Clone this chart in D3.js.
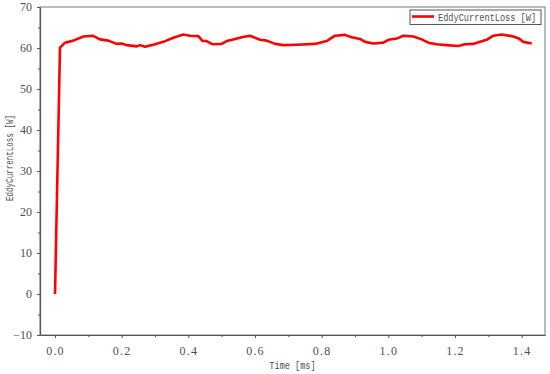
<!DOCTYPE html>
<html>
<head>
<meta charset="utf-8">
<script src="https://cdn.jsdelivr.net/npm/d3@7.9.0/dist/d3.min.js"></script>
<style>
  body { margin: 0; background: #fff; }
  .serif { font-family: "Liberation Serif", "DejaVu Serif", serif; }
  .mono { font-family: "Liberation Mono", "DejaVu Sans Mono", monospace; }
</style>
</head>
<body>
<svg width="550" height="374"></svg>
<script>
// data
const timeMs = [0.0, 0.015, 0.03, 0.055, 0.085, 0.113, 0.135, 0.16, 0.185, 0.2, 0.215, 0.245, 0.255, 0.27,
  0.295, 0.325, 0.355, 0.385, 0.405, 0.43, 0.443, 0.455, 0.473, 0.5, 0.515, 0.535, 0.56, 0.585, 0.615,
  0.635, 0.66, 0.685, 0.725, 0.78, 0.815, 0.84, 0.87, 0.89, 0.915, 0.93, 0.955, 0.985, 1.0, 1.025,
  1.045, 1.075, 1.1, 1.12, 1.145, 1.175, 1.21, 1.23, 1.255, 1.275, 1.295, 1.315, 1.34, 1.37, 1.39,
  1.405, 1.43];
const lossW = [0, 60.1, 61.3, 61.8, 62.8, 63.0, 62.1, 61.8, 61.0, 61.1, 60.7, 60.4, 60.7, 60.3,
  60.8, 61.5, 62.5, 63.3, 63.0, 62.9, 61.7, 61.7, 60.9, 61.0, 61.7, 62.1, 62.6, 63.0, 62.0,
  61.8, 61.0, 60.7, 60.8, 61.0, 61.7, 63.0, 63.2, 62.6, 62.2, 61.5, 61.1, 61.3, 62.0, 62.3,
  63.0, 62.8, 62.1, 61.3, 60.9, 60.7, 60.5, 60.9, 61.0, 61.5, 62.0, 63.0, 63.3, 62.9, 62.4,
  61.5, 61.1];
const xTicks = [0, 0.2, 0.4, 0.6, 0.8, 1.0, 1.2, 1.4];
const yTicks = [-10, 0, 10, 20, 30, 40, 50, 60, 70];
const seriesName = "EddyCurrentLoss [W]";

const svg = d3.select("svg");
const L = 40, R = 545, T = 7, B = 335;

const x = d3.scaleLinear().domain([-0.045, 1.47]).range([L, R]);
const y = d3.scaleLinear().domain([-10, 70]).range([B, T]);

const axisColor = "#555";
const textColor = "#505050";

// frame
svg.append("rect")
  .attr("x", L).attr("y", T).attr("width", R - L).attr("height", B - T)
  .attr("fill", "none").attr("stroke", "#777").attr("stroke-width", 1);

// x axis
const xAxis = svg.append("g").attr("transform", `translate(0,${B})`)
  .call(d3.axisBottom(x).tickValues(xTicks).tickSize(3).tickSizeOuter(0)
    .tickFormat(d3.format(".1f")));
svg.append("g").attr("transform", `translate(0,${B})`)
  .call(d3.axisBottom(x).tickValues(d3.range(0.1, 1.5, 0.2)).tickSize(2).tickFormat(""))
  .call(g => g.select(".domain").remove());

// y axis
const yAxis = svg.append("g").attr("transform", `translate(${L},0)`)
  .call(d3.axisLeft(y).tickValues(yTicks).tickSize(3).tickSizeOuter(0)
    .tickFormat(d => d < 0 ? "\u2212" + Math.abs(d) : d));
svg.append("g").attr("transform", `translate(${L},0)`)
  .call(d3.axisLeft(y).tickValues(d3.range(-5, 70, 10)).tickSize(2).tickFormat(""))
  .call(g => g.select(".domain").remove());

svg.selectAll(".domain").attr("stroke", axisColor).attr("stroke-width", 1.2);
svg.selectAll(".tick line").attr("stroke", axisColor);
xAxis.attr("font-family", null);
yAxis.attr("font-family", null);
svg.selectAll(".tick text").attr("class", "serif").attr("font-size", 12).attr("fill", textColor);
xAxis.selectAll(".tick text").attr("dy", "1.2em").attr("letter-spacing", "1.2px");
yAxis.selectAll(".tick text").attr("dx", "-2px");

// axis titles (squeezed horizontally like the narrow mono font of the original)
svg.append("text").attr("class", "mono")
  .attr("transform", `translate(${(L + R) / 2},369) scale(0.78,1)`)
  .attr("text-anchor", "middle").attr("font-size", 11)
  .attr("fill", textColor)
  .text("Time [ms]");
svg.append("text").attr("class", "mono")
  .attr("transform", `translate(13,158) rotate(-90) scale(0.72,1)`)
  .attr("text-anchor", "middle").attr("font-size", 10.5)
  .attr("fill", textColor)
  .text(seriesName);

// line
const line = d3.line().x((d, i) => x(timeMs[i])).y(d => y(d));
svg.append("path").datum(lossW)
  .attr("d", line).attr("fill", "none")
  .attr("stroke", "#ff0000").attr("stroke-width", 2.6).attr("stroke-linejoin", "round");

// legend
const lg = svg.append("g");
lg.append("rect").attr("x", 410).attr("y", 10).attr("width", 131).attr("height", 14.5)
  .attr("fill", "#fff").attr("stroke", "#555").attr("stroke-width", 1);
lg.append("line").attr("x1", 412).attr("x2", 434).attr("y1", 16.5).attr("y2", 16.5)
  .attr("stroke", "#ff0000").attr("stroke-width", 2.6);
lg.append("text").attr("class", "mono")
  .attr("transform", "translate(438,20.8) scale(0.82,1)")
  .attr("font-size", 10.5)
  .attr("fill", textColor)
  .text(seriesName);
</script>
</body>
</html>
